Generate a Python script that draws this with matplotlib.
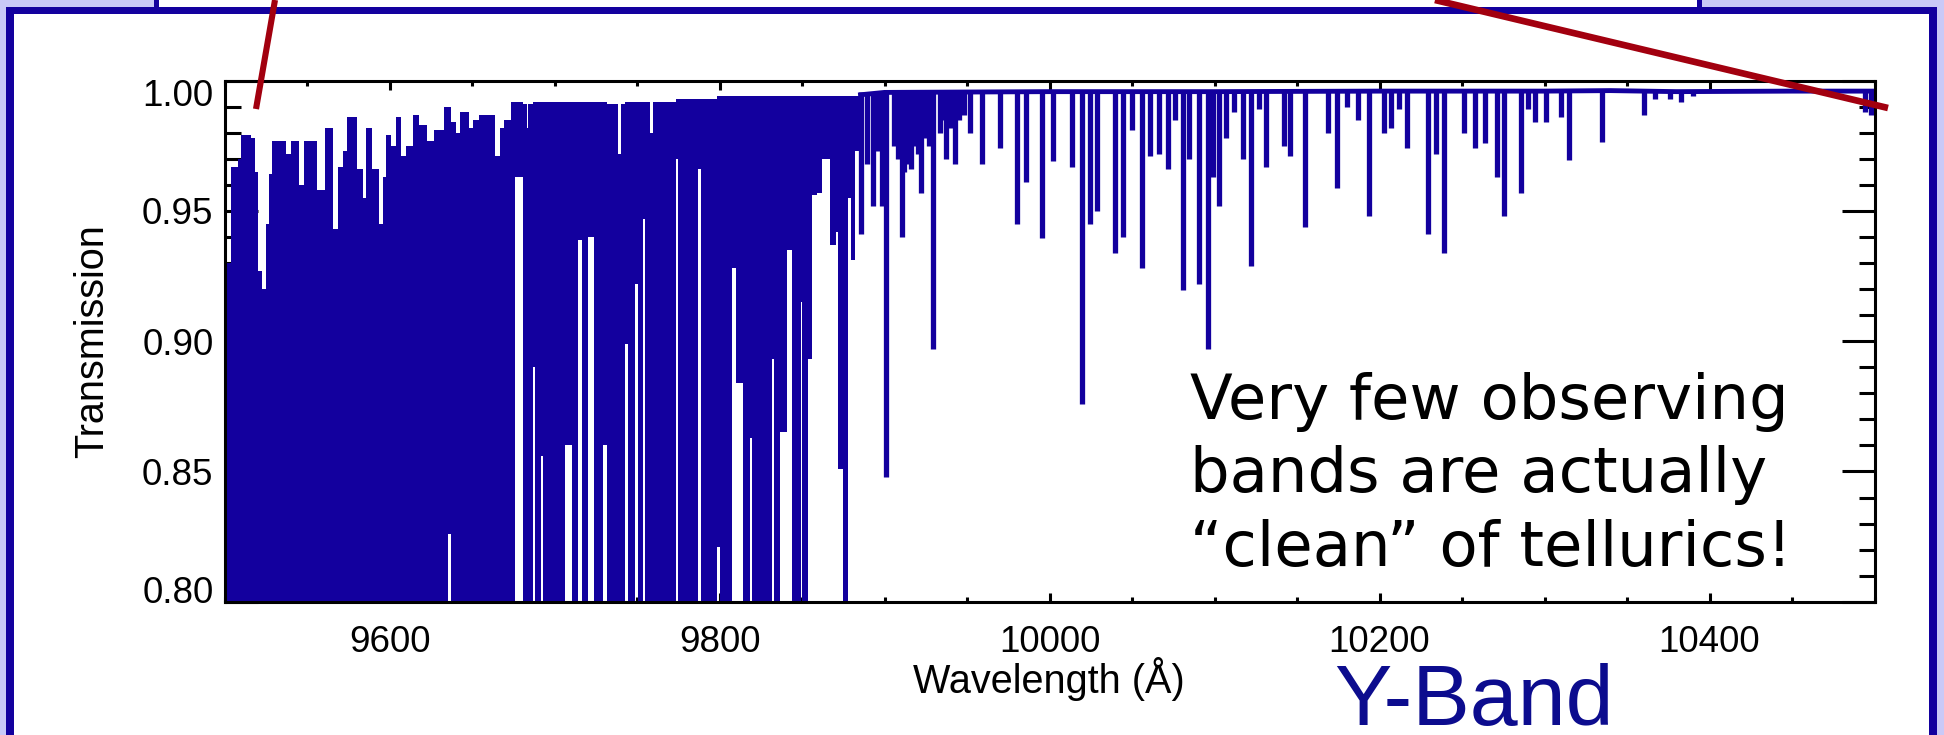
import numpy as np
import matplotlib
matplotlib.use("Agg")
import matplotlib.pyplot as plt
from matplotlib.ticker import FixedLocator, MultipleLocator
from matplotlib.patches import Rectangle
from matplotlib.transforms import ScaledTranslation

# ---------------- data ----------------
# dense (blended) blue part of the spectrum: bins with max / min transmission
dense_edges = [9500.0, 9504, 9508, 9510, 9516, 9518.5, 9520.5, 9522.5, 9525, 9527, 9529,
               9537, 9540, 9545, 9548, 9556, 9561, 9566, 9569, 9572, 9574, 9580, 9584,
               9586, 9589.5, 9593.5, 9596, 9598, 9601, 9604, 9607, 9610, 9614, 9618,
               9623, 9627, 9633, 9635.5, 9637.5, 9640, 9642.5, 9648, 9650.5, 9654.5,
               9664, 9667, 9669.5, 9673.5,
               9676.1, 9681.1, 9683.1, 9684.1, 9687.2, 9688.2, 9691.8, 9693.2, 9706.4,
               9710.4, 9714.0, 9716.5, 9720.5, 9724.1, 9729.6, 9732.0, 9738.7, 9740.3,
               9742.7, 9744.7, 9748.8, 9750.4, 9753.8, 9754.8, 9757.9, 9759.9, 9773.6,
               9775.0, 9787.2, 9788.6, 9798.3, 9800.3, 9807.8, 9809.8, 9814.4, 9818.5,
               9819.5, 9831.6, 9833.2, 9836.7, 9840.7, 9843.7, 9849.4, 9850.2, 9853.8,
               9855.8, 9858.9, 9861.9, 9867.0, 9870.4, 9872.0, 9875.0, 9878.1, 9879.7,
               9882.1, 9885.1]
dense_hi = [0.930, 0.967, 0.970, 0.979, 0.978, 0.965, 0.927, 0.920, 0.945, 0.964,
            0.977, 0.972, 0.977, 0.960, 0.977, 0.958, 0.982, 0.943, 0.967, 0.973,
            0.986, 0.966, 0.955, 0.982, 0.966, 0.945, 0.963, 0.979, 0.975, 0.986,
            0.971, 0.975, 0.987, 0.983, 0.977, 0.981, 0.990, 0.990, 0.984, 0.980,
            0.988, 0.982, 0.985, 0.987, 0.971, 0.982, 0.985, 0.992,
            0.992, 0.991, 0.982, 0.991, 0.992, 0.992, 0.992, 0.992, 0.992, 0.992,
            0.992, 0.992, 0.992, 0.992, 0.992, 0.991, 0.972, 0.991, 0.992, 0.992,
            0.992, 0.992, 0.992, 0.992, 0.980, 0.992, 0.993, 0.993, 0.993, 0.993,
            0.994, 0.994, 0.994, 0.994, 0.994, 0.994, 0.994, 0.994, 0.994, 0.994,
            0.994, 0.994, 0.994, 0.994, 0.994, 0.994, 0.994, 0.994, 0.994, 0.994,
            0.994, 0.994, 0.994, 0.994, 0.994]
dense_lo = [0.80] * 37 + [0.826] + [0.80] * 10 + \
           [0.963, 0.80, 0.80, 0.80, 0.890, 0.80, 0.856, 0.80, 0.860, 0.80,
            0.939, 0.80, 0.940, 0.80, 0.860, 0.80, 0.80, 0.80, 0.899, 0.80,
            0.922, 0.80, 0.947, 0.80, 0.80, 0.80, 0.970, 0.80, 0.966, 0.80,
            0.821, 0.80, 0.928, 0.884, 0.80, 0.863, 0.80, 0.893, 0.80, 0.865,
            0.935, 0.80, 0.915, 0.80, 0.893, 0.956, 0.957, 0.970, 0.937, 0.942,
            0.851, 0.80, 0.955, 0.931, 0.973]

# continuum of the cleaner red part
cont_wl = [9884, 9900, 10000, 10100, 10200, 10300, 10340, 10380, 10450, 10490, 10500]
cont_T = [0.9945, 0.9955, 0.9958, 0.9958, 0.996, 0.996, 0.9962, 0.9958, 0.996, 0.996, 0.996]

# individual absorption lines: centre wavelength and minimum transmission
line_wl = [9885.5, 9889.5, 9893, 9896, 9898.5, 9901, 9906, 9908, 9910.7, 9912,
           9914, 9916, 9918, 9920, 9922, 9925, 9927, 9929.5, 9933.5, 9935, 9937.5,
           9940, 9943, 9945, 9948, 9952, 9959, 9970, 9980, 9986, 9995.5, 10002,
           10013.5, 10019.5, 10024.5, 10028.5, 10039.5, 10044.5, 10050, 10056,
           10061, 10066.5, 10072, 10076, 10081, 10084.5, 10090.5, 10095.8, 10099.3,
           10102.7, 10107, 10112, 10117, 10122, 10127, 10131, 10142, 10146, 10155,
           10169, 10174, 10180, 10187, 10193.5, 10203, 10207, 10212, 10216.5,
           10229.5, 10234, 10239, 10251, 10258, 10264, 10271.5, 10275.5, 10286,
           10290, 10294, 10301, 10310, 10315, 10335, 10360.5, 10367, 10376, 10383,
           10390, 10494, 10498]
line_T = [0.941, 0.968, 0.952, 0.973, 0.952, 0.848, 0.975, 0.970, 0.940, 0.965,
          0.968, 0.966, 0.975, 0.972, 0.957, 0.978, 0.975, 0.897, 0.980, 0.985, 0.970,
          0.982, 0.968, 0.985, 0.987, 0.980, 0.968, 0.974, 0.945, 0.961, 0.9395, 0.969,
          0.967, 0.876, 0.945, 0.950, 0.934, 0.940, 0.981, 0.928,
          0.971, 0.972, 0.966, 0.985, 0.9196, 0.970, 0.922, 0.897, 0.963,
          0.952, 0.978, 0.988, 0.970, 0.929, 0.989, 0.967, 0.975, 0.971, 0.944,
          0.980, 0.959, 0.990, 0.985, 0.948, 0.980, 0.982, 0.989, 0.974,
          0.941, 0.972, 0.934, 0.980, 0.974, 0.976, 0.963, 0.948, 0.957,
          0.989, 0.984, 0.984, 0.986, 0.9696, 0.9766, 0.9868, 0.993, 0.993, 0.992,
          0.994, 0.988, 0.987]
line_top = 0.9955

xticks = [9600, 9800, 10000, 10200, 10400]
xtick_labels = ["9600", "9800", "10000", "10200", "10400"]
yticks = [0.80, 0.85, 0.90, 0.95, 1.00]
ytick_labels = ["0.80", "0.85", "0.90", "0.95", "1.00"]

annotation_lines = ["Very few observing", "bands are actually", "\u201cclean\u201d of tellurics!"]

# pointer lines of the slide (pixel coordinates of the 1944x735 slide)
pointer_a = [(275, 0), (256, 109)]
pointer_b = [(1435, 0), (1888, 108)]

# ---------------- style ----------------
W, H = 1944, 735
BLUE = "#13009E"
NAVY = "#0C0C8E"
LAV = "#C9C9F7"
RED = "#A2000F"
TICKFONT = "Liberation Sans"

fig = plt.figure(figsize=(W / 100, H / 100), dpi=100)
fig.patch.set_facecolor("white")

# background slide frame
bg = fig.add_axes([0, 0, 1, 1], zorder=0)
bg.set_xlim(0, W)
bg.set_ylim(H, 0)
bg.axis("off")
for (x, y, w, h, c) in [
    (0, 0, 6, H, LAV), (1937, 0, W - 1937, H, LAV),
    (0, 0, 155, 7, LAV), (1702, 0, W - 1702, 7, LAV),
    (6, 7, 8, H, BLUE), (1929, 7, 8, H, BLUE), (6, 7, 1931, 7, BLUE),
    (154, 0, 5, 7, BLUE), (1697, 0, 5, 7, BLUE)]:
    bg.add_patch(Rectangle((x, y), w, h, facecolor=c, edgecolor="none"))

# main plot
left, right = 224.5 / W, 1874.5 / W
bottom, top = (H - 601.7) / H, (H - 80.7) / H
ax = fig.add_axes([left, bottom, right - left, top - bottom], zorder=1)
ax.set_facecolor("white")

ax.stairs(dense_hi, dense_edges, baseline=dense_lo, fill=True, color=BLUE,
          linewidth=0, zorder=3)
ax.vlines(line_wl, line_T, line_top, colors=BLUE, linewidth=3.8, zorder=3)
ax.plot(cont_wl, cont_T, color=BLUE, linewidth=3.5, zorder=3, solid_capstyle="butt")

ax.set_xlim(9500, 10500)
ax.set_ylim(0.80, 1.00)
ax.xaxis.set_major_locator(FixedLocator(xticks))
ax.set_xticklabels(xtick_labels)
ax.xaxis.set_minor_locator(MultipleLocator(50))
ax.yaxis.set_major_locator(FixedLocator(yticks))
ax.set_yticklabels(ytick_labels)
ax.yaxis.set_minor_locator(MultipleLocator(0.01))

ax.tick_params(axis="both", which="both", direction="in", top=True, right=True,
               width=2.2, color="black")
ax.tick_params(axis="x", which="major", length=6.5, pad=17)
ax.tick_params(axis="x", which="minor", length=3.4)
ax.tick_params(axis="y", which="major", length=23.8, pad=8)
ax.tick_params(axis="y", which="minor", length=11.5)
for lab in ax.get_xticklabels() + ax.get_yticklabels():
    lab.set_fontfamily(TICKFONT)
    lab.set_fontsize(26.5)
for sp in ax.spines.values():
    sp.set_linewidth(2.2)
    sp.set_zorder(4)

ylabs = ax.get_yticklabels()
ylabs[-1].set_transform(ylabs[-1].get_transform() + ScaledTranslation(0, -12 / 100, fig.dpi_scale_trans))
ylabs[0].set_transform(ylabs[0].get_transform() + ScaledTranslation(0, 12.5 / 100, fig.dpi_scale_trans))

# foreground texts and pointers
fg = fig.add_axes([0, 0, 1, 1], zorder=5)
fg.set_xlim(0, W)
fg.set_ylim(H, 0)
fg.axis("off")
fg.patch.set_alpha(0)

fg.text(92, 341, "Transmission", rotation=90, ha="center", va="center",
        family=TICKFONT, fontsize=28.5)
fg.text(1049, 693, "Wavelength (\u00c5)", ha="center", va="baseline",
        family=TICKFONT, fontsize=28.5)
fg.text(1334, 725, "Y-Band", ha="left", va="baseline", family=TICKFONT,
        fontsize=62, color=NAVY)
for i, s in enumerate(annotation_lines):
    fg.text(1190, 418.5 + i * 73.8, s, ha="left", va="baseline",
            family="DejaVu Sans", fontsize=45, color="black")

for pts, lw in [(pointer_a, 4.4), (pointer_b, 4.8)]:
    xs = [p[0] for p in pts]
    ys = [p[1] for p in pts]
    fg.plot(xs, ys, color=RED, linewidth=lw, solid_capstyle="butt")

fig.savefig("out.png", dpi=100)
